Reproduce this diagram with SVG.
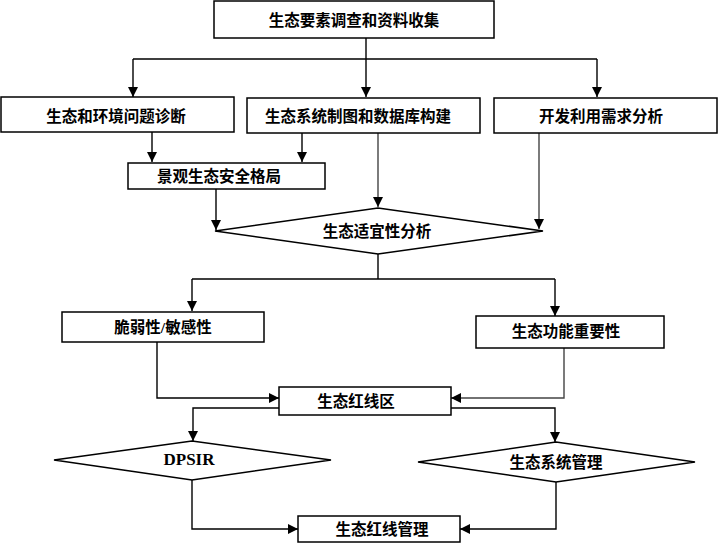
<svg xmlns="http://www.w3.org/2000/svg" width="718" height="543" viewBox="0 0 718 543">
<defs>
<style>
.box{fill:#fff;stroke:#000;stroke-width:1.5}
.t{font-family:"Liberation Serif","Noto Sans CJK SC",serif;font-size:15.5px;font-weight:bold;text-anchor:middle;dominant-baseline:central;fill:#000}
.c{fill:none;stroke:#000;stroke-width:1.4}
.g{stroke:#444}
</style>
<marker id="ah" viewBox="0 0 10 10" refX="10" refY="5" markerWidth="10" markerHeight="10" markerUnits="userSpaceOnUse" orient="auto">
<path d="M0,0 L10,5 L0,10 z" fill="#000"/>
</marker>
</defs>
<rect width="718" height="543" fill="#fff"/>
<g id="connectors">
<path class="c" d="M366,38 V59 M133,59 H597"/>
<path class="c" d="M133,59 V97" marker-end="url(#ah)"/>
<path class="c" d="M366,59 V97" marker-end="url(#ah)"/>
<path class="c" d="M597,59 V97" marker-end="url(#ah)"/>
<path class="c" d="M152,132 V162" marker-end="url(#ah)"/>
<path class="c" d="M302,133 V162" marker-end="url(#ah)"/>
<path class="c g" d="M378,133 V207" marker-end="url(#ah)"/>
<path class="c g" d="M539,133 V229" marker-end="url(#ah)"/>
<path class="c" d="M216,189 V230" marker-end="url(#ah)"/>
<path class="c" d="M378,254 V279 M192,279 H555"/>
<path class="c" d="M192,279 V311" marker-end="url(#ah)"/>
<path class="c" d="M555,279 V316" marker-end="url(#ah)"/>
<path class="c" d="M157,342 V398 H279" marker-end="url(#ah)"/>
<path class="c g" d="M564,348 V398 H451" marker-end="url(#ah)"/>
<path class="c" d="M279,408 H193 V441" marker-end="url(#ah)"/>
<path class="c" d="M451,408 H555 V442" marker-end="url(#ah)"/>
<path class="c" d="M192,480 V529 H298" marker-end="url(#ah)"/>
<path class="c" d="M556,482 V529 H460" marker-end="url(#ah)"/>
</g>
<g id="n1"><rect class="box" x="214" y="1" width="280" height="37"/><text class="t" x="354" y="20">生态要素调查和资料收集</text></g>
<g id="n2"><rect class="box" x="1" y="97" width="233" height="35"/><text class="t" x="116" y="116">生态和环境问题诊断</text></g>
<g id="n3"><rect class="box" x="247" y="98" width="233" height="35"/><text class="t" x="358" y="116">生态系统制图和数据库构建</text></g>
<g id="n4"><rect class="box" x="494" y="98" width="223" height="35"/><text class="t" x="601" y="116">开发利用需求分析</text></g>
<g id="n5"><rect class="box" x="128" y="163" width="197" height="26"/><text class="t" x="219" y="176">景观生态安全格局</text></g>
<g id="n6"><polygon class="box" points="215,231 378,208 543,231 378,254"/><text class="t" x="377" y="231">生态适宜性分析</text></g>
<g id="n7"><rect class="box" x="62" y="312" width="202" height="30"/><text class="t" x="163" y="327">脆弱性/敏感性</text></g>
<g id="n8"><rect class="box" x="476" y="316" width="188" height="32"/><text class="t" x="566" y="331">生态功能重要性</text></g>
<g id="n9"><rect class="box" x="279" y="387" width="172" height="28"/><text class="t" x="356" y="401">生态红线区</text></g>
<g id="n10"><polygon class="box" points="54,460 192,441 331,460 192,480"/><text class="t" x="189" y="459" style="font-size:17px">DPSIR</text></g>
<g id="n11"><polygon class="box" points="418,462 556,442 695,462 556,482"/><text class="t" x="556" y="462">生态系统管理</text></g>
<g id="n12"><rect class="box" x="298" y="516" width="162" height="26"/><text class="t" x="382" y="529">生态红线管理</text></g>
</svg>
